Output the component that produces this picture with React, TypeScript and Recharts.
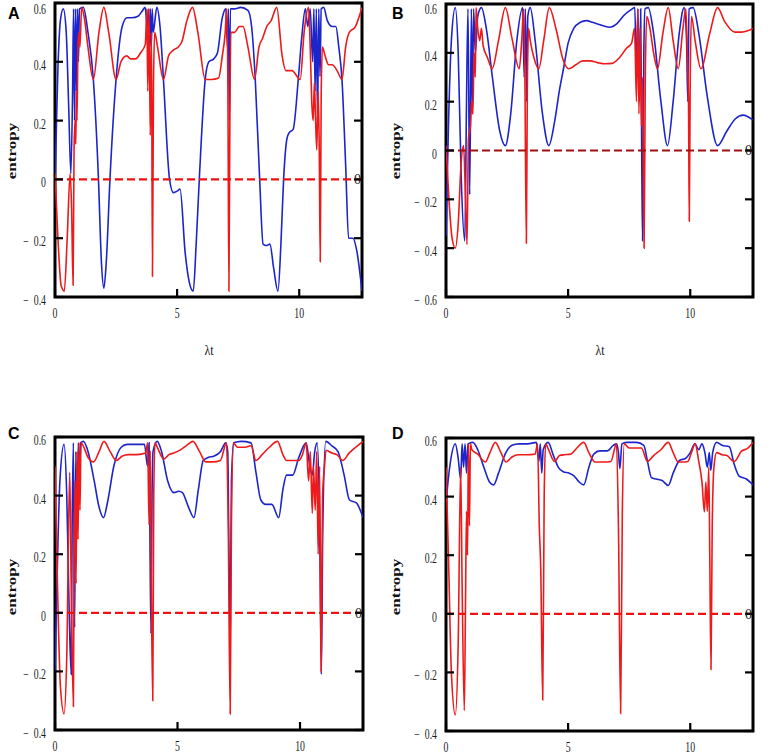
import { Line, LineChart, ReferenceArea, ReferenceLine, XAxis, YAxis } from 'recharts';

type Pt = [number, number];

const T_MAX = 12.57;
const xTicks = [0, 5, 10];
const yTicks = [-0.4, -0.2, 0, 0.2, 0.4, 0.6];
const yTicksB = [-0.6, -0.4, -0.2, 0, 0.2, 0.4, 0.6];

// panel A
const blueA: Pt[] = [
  [0, 0.0], [0.12, 0.38], [0.22, 0.54], [0.34, 0.58], [0.46, 0.5], [0.56, 0.25], [0.65, 0.02],
  [0.72, 0.3], [0.76, 0.58], [0.8, 0.2], [0.84, 0.58], [0.88, 0.3], [0.92, 0.58], [0.96, 0.4],
  [1.0, 0.58], [1.16, 0.585], [1.35, 0.5], [1.57, 0.34], [1.78, 0.0], [1.9, -0.28], [2.0, -0.37],
  [2.1, -0.28], [2.25, 0.0], [2.5, 0.34], [2.75, 0.52], [2.95, 0.55], [3.15, 0.55], [3.4, 0.555],
  [3.55, 0.57], [3.69, 0.585], [3.78, 0.52], [3.82, 0.58], [3.86, 0.42], [3.9, 0.58], [3.94, 0.45],
  [3.98, 0.58], [4.02, 0.5], [4.17, 0.585], [4.3, 0.52], [4.44, 0.34], [4.69, 0.0], [4.85, -0.045],
  [5.0, -0.04], [5.12, -0.033], [5.33, -0.25], [5.5, -0.35], [5.66, -0.38], [5.78, -0.22],
  [5.92, 0.02], [6.15, 0.34], [6.3, 0.4], [6.5, 0.41], [6.65, 0.43], [6.85, 0.55], [7.0, 0.58],
  [7.06, 0.45], [7.1, 0.58], [7.14, 0.2], [7.18, 0.58], [7.35, 0.58], [7.6, 0.585], [7.9, 0.575],
  [8.05, 0.52], [8.2, 0.34], [8.38, 0.0], [8.52, -0.22], [8.65, -0.225], [8.8, -0.22],
  [8.95, -0.3], [9.13, -0.38], [9.25, -0.22], [9.36, 0.0], [9.5, 0.14], [9.6, 0.16], [9.75, 0.17],
  [9.97, 0.35], [10.1, 0.48], [10.25, 0.58], [10.35, 0.52], [10.45, 0.58], [10.55, 0.4],
  [10.6, 0.58], [10.65, 0.3], [10.7, 0.58], [10.75, 0.2], [10.8, 0.58], [10.85, 0.35], [10.9, 0.58],
  [11.0, 0.585], [11.15, 0.54], [11.35, 0.52], [11.5, 0.52], [11.62, 0.45], [11.75, 0.34],
  [11.9, 0.05], [12.02, -0.2], [12.2, -0.2], [12.35, -0.24], [12.57, -0.38],
];
const redA: Pt[] = [
  [0, 0.02], [0.12, -0.2], [0.25, -0.36], [0.38, -0.38], [0.5, -0.2], [0.62, 0.02], [0.68, -0.1],
  [0.74, -0.36], [0.78, 0.1], [0.82, 0.2], [0.85, 0.12], [0.88, 0.3], [0.9, 0.2], [0.94, 0.45],
  [0.98, 0.5], [1.02, 0.45], [1.09, 0.585], [1.2, 0.55], [1.35, 0.45], [1.57, 0.34], [1.8, 0.5],
  [2.0, 0.585], [2.2, 0.5], [2.5, 0.34], [2.7, 0.4], [2.94, 0.42], [3.1, 0.41], [3.3, 0.41],
  [3.5, 0.43], [3.7, 0.46], [3.76, 0.58], [3.8, 0.3], [3.85, 0.58], [3.9, 0.15], [3.95, 0.5],
  [3.99, -0.33], [4.03, 0.3], [4.08, 0.5], [4.2, 0.45], [4.44, 0.34], [4.65, 0.42], [4.85, 0.44],
  [5.05, 0.45], [5.2, 0.47], [5.4, 0.54], [5.63, 0.585], [5.85, 0.5], [6.15, 0.34], [6.4, 0.34],
  [6.7, 0.345], [6.85, 0.42], [6.97, 0.5], [7.03, 0.58], [7.08, 0.3], [7.12, -0.38], [7.16, 0.2],
  [7.2, 0.5], [7.35, 0.5], [7.55, 0.52], [7.7, 0.52], [7.9, 0.45], [8.17, 0.34], [8.35, 0.45],
  [8.5, 0.48], [8.67, 0.52], [8.85, 0.54], [9.08, 0.585], [9.3, 0.42], [9.45, 0.37], [9.7, 0.37],
  [10.04, 0.34], [10.2, 0.5], [10.38, 0.585], [10.45, 0.45], [10.52, 0.25], [10.57, 0.2],
  [10.62, 0.33], [10.67, 0.2], [10.72, 0.1], [10.77, 0.3], [10.82, 0.1], [10.86, -0.28],
  [10.9, 0.3], [10.95, 0.45], [11.06, 0.42], [11.2, 0.39], [11.35, 0.39], [11.55, 0.37],
  [11.75, 0.34], [11.9, 0.45], [12.05, 0.5], [12.3, 0.52], [12.57, 0.585],
];

// panel B
const blueB: Pt[] = [
  [0, -0.35], [0.1, 0.1], [0.22, 0.45], [0.38, 0.585], [0.5, 0.4], [0.62, -0.1], [0.77, -0.37],
  [0.84, 0.2], [0.9, 0.58], [0.97, -0.18], [1.04, 0.58], [1.08, 0.15], [1.13, 0.58], [1.2, 0.4],
  [1.3, 0.55], [1.45, 0.585], [1.65, 0.5], [1.9, 0.3], [2.2, 0.08], [2.43, 0.02], [2.65, 0.15],
  [2.9, 0.45], [3.14, 0.585], [3.2, 0.3], [3.25, 0.58], [3.3, 0.2], [3.35, 0.55], [3.45, 0.585],
  [3.65, 0.45], [3.95, 0.15], [4.21, 0.02], [4.45, 0.12], [4.65, 0.25], [4.82, 0.34], [5.0, 0.44],
  [5.23, 0.5], [5.5, 0.525], [5.75, 0.532], [6.0, 0.525], [6.3, 0.515], [6.7, 0.505], [7.0, 0.52],
  [7.3, 0.555], [7.55, 0.575], [7.73, 0.585], [7.8, 0.3], [7.86, 0.58], [7.92, 0.2], [7.97, 0.58],
  [8.02, -0.1], [8.05, -0.37], [8.1, 0.4], [8.15, 0.58], [8.28, 0.585], [8.5, 0.48], [8.8, 0.2],
  [9.07, 0.02], [9.3, 0.2], [9.55, 0.48], [9.75, 0.585], [9.85, 0.45], [9.9, 0.2], [9.95, 0.58],
  [10.12, 0.585], [10.35, 0.48], [10.7, 0.22], [11.12, 0.02], [11.5, 0.08], [11.85, 0.13],
  [12.17, 0.145], [12.57, 0.125],
];
const redB: Pt[] = [
  [0, 0.02], [0.12, -0.2], [0.25, -0.36], [0.38, -0.4], [0.5, -0.3], [0.62, -0.05], [0.72, 0.02],
  [0.8, -0.2], [0.86, -0.385], [0.92, 0.05], [1.0, 0.1], [1.05, 0.2], [1.1, 0.15], [1.15, 0.4],
  [1.2, 0.3], [1.23, 0.585], [1.3, 0.5], [1.38, 0.45], [1.45, 0.5], [1.52, 0.43], [1.7, 0.38],
  [1.89, 0.335], [2.15, 0.45], [2.43, 0.585], [2.7, 0.46], [3.0, 0.335], [3.1, 0.45], [3.18, 0.58],
  [3.23, 0.3], [3.29, -0.38], [3.33, 0.25], [3.38, 0.5], [3.45, 0.45], [3.6, 0.38], [3.8, 0.335],
  [4.0, 0.45], [4.23, 0.585], [4.5, 0.5], [4.8, 0.37], [5.03, 0.335], [5.3, 0.35], [5.6, 0.367],
  [5.9, 0.367], [6.2, 0.36], [6.5, 0.355], [6.8, 0.357], [7.1, 0.38], [7.4, 0.42], [7.6, 0.44],
  [7.72, 0.5], [7.8, 0.2], [7.85, 0.58], [7.9, 0.15], [7.95, 0.5], [8.0, 0.1], [8.05, 0.3],
  [8.11, -0.4], [8.16, 0.3], [8.22, 0.55], [8.35, 0.5], [8.5, 0.4], [8.66, 0.335], [8.88, 0.48],
  [9.1, 0.585], [9.3, 0.45], [9.51, 0.335], [9.7, 0.5], [9.82, 0.58], [9.88, 0.4], [9.93, 0.2],
  [9.96, -0.29], [10.0, 0.3], [10.05, 0.55], [10.2, 0.45], [10.44, 0.335], [10.8, 0.48],
  [11.12, 0.585], [11.4, 0.53], [11.83, 0.485], [12.1, 0.485], [12.35, 0.49], [12.57, 0.5],
];

// panel C
const blueC: Pt[] = [
  [0, -0.2], [0.08, 0.1], [0.2, 0.45], [0.37, 0.575], [0.48, 0.4], [0.58, 0.0], [0.66, -0.21],
  [0.7, 0.3], [0.75, 0.58], [0.8, -0.05], [0.85, 0.55], [0.9, 0.3], [0.95, 0.58], [1.0, 0.45],
  [1.05, 0.58], [1.16, 0.585], [1.35, 0.55], [1.6, 0.45], [1.8, 0.36], [1.98, 0.325], [2.15, 0.38],
  [2.4, 0.5], [2.7, 0.565], [2.95, 0.575], [3.3, 0.575], [3.65, 0.575], [3.78, 0.5], [3.84, 0.58],
  [3.88, 0.2], [3.92, -0.07], [3.96, 0.4], [4.0, 0.55], [4.17, 0.585], [4.35, 0.55], [4.6, 0.45],
  [4.85, 0.41], [5.05, 0.415], [5.2, 0.41], [5.45, 0.36], [5.67, 0.325], [5.85, 0.42],
  [6.05, 0.52], [6.25, 0.53], [6.5, 0.535], [6.75, 0.55], [6.97, 0.58], [7.05, 0.55], [7.1, 0.2],
  [7.15, -0.08], [7.2, 0.45], [7.3, 0.58], [7.6, 0.585], [8.0, 0.58], [8.2, 0.48], [8.4, 0.385],
  [8.6, 0.37], [8.85, 0.37], [9.13, 0.325], [9.3, 0.42], [9.45, 0.47], [9.7, 0.47], [9.95, 0.53],
  [10.25, 0.58], [10.4, 0.5], [10.5, 0.47], [10.6, 0.55], [10.7, 0.58], [10.8, 0.3], [10.87, -0.21],
  [10.93, 0.3], [11.05, 0.585], [11.3, 0.57], [11.55, 0.55], [11.8, 0.47], [12.02, 0.385],
  [12.3, 0.375], [12.57, 0.325],
];
const redC: Pt[] = [
  [0, 0.5], [0.1, 0.1], [0.22, -0.25], [0.37, -0.345], [0.48, -0.15], [0.6, 0.48], [0.66, 0.1],
  [0.75, -0.32], [0.78, 0.2], [0.82, 0.45], [0.86, 0.1], [0.9, 0.55], [0.94, 0.25], [0.98, 0.58],
  [1.02, 0.35], [1.06, 0.58], [1.15, 0.57], [1.35, 0.53], [1.57, 0.515], [1.8, 0.55], [2.0, 0.585],
  [2.25, 0.55], [2.5, 0.52], [2.75, 0.535], [3.0, 0.54], [3.35, 0.54], [3.7, 0.545], [3.78, 0.58],
  [3.84, 0.3], [3.88, 0.55], [3.93, 0.1], [3.99, -0.3], [4.03, 0.4], [4.08, 0.58], [4.2, 0.56],
  [4.44, 0.525], [4.65, 0.54], [4.85, 0.545], [5.1, 0.555], [5.35, 0.57], [5.63, 0.585],
  [5.9, 0.55], [6.15, 0.515], [6.45, 0.515], [6.75, 0.52], [7.0, 0.58], [7.07, 0.3],
  [7.15, -0.345], [7.2, 0.3], [7.28, 0.58], [7.45, 0.565], [7.75, 0.565], [8.0, 0.57], [8.2, 0.52],
  [8.45, 0.54], [8.75, 0.565], [9.08, 0.585], [9.3, 0.54], [9.45, 0.52], [9.75, 0.52],
  [9.95, 0.52], [10.1, 0.54], [10.25, 0.58], [10.35, 0.45], [10.42, 0.55], [10.5, 0.34],
  [10.55, 0.5], [10.62, 0.35], [10.68, 0.55], [10.74, 0.2], [10.8, 0.5], [10.86, -0.2],
  [10.92, 0.4], [11.0, 0.5], [11.06, 0.555], [11.3, 0.545], [11.5, 0.54], [11.75, 0.52],
  [12.0, 0.545], [12.2, 0.56], [12.57, 0.585],
];

// panel D
const blueD: Pt[] = [
  [0, 0.38], [0.15, 0.5], [0.38, 0.58], [0.5, 0.53], [0.6, 0.46], [0.66, 0.58], [0.72, 0.5],
  [0.78, 0.58], [0.84, 0.48], [0.9, 0.58], [1.1, 0.585], [1.3, 0.56], [1.55, 0.5], [1.78, 0.45],
  [1.95, 0.44], [2.15, 0.48], [2.45, 0.55], [2.7, 0.575], [3.0, 0.58], [3.35, 0.58], [3.7, 0.585],
  [3.8, 0.52], [3.86, 0.58], [3.92, 0.48], [3.98, 0.56], [4.18, 0.585], [4.4, 0.54], [4.6, 0.5],
  [4.8, 0.485], [5.05, 0.48], [5.25, 0.47], [5.45, 0.45], [5.64, 0.44], [5.85, 0.5], [6.05, 0.545],
  [6.3, 0.556], [6.6, 0.556], [6.85, 0.575], [6.98, 0.58], [7.06, 0.55], [7.12, 0.495], [7.2, 0.58],
  [7.4, 0.585], [7.8, 0.585], [8.1, 0.575], [8.25, 0.52], [8.41, 0.465], [8.6, 0.46], [8.85, 0.455],
  [9.1, 0.438], [9.3, 0.48], [9.57, 0.524], [9.8, 0.53], [10.0, 0.55], [10.19, 0.58], [10.35, 0.56],
  [10.48, 0.58], [10.6, 0.55], [10.7, 0.5], [10.78, 0.55], [10.84, 0.49], [10.92, 0.55],
  [11.08, 0.585], [11.3, 0.575], [11.6, 0.57], [11.8, 0.51], [12.0, 0.47], [12.3, 0.46],
  [12.57, 0.44],
];
const redD: Pt[] = [
  [0, 0.5], [0.1, 0.2], [0.22, -0.2], [0.38, -0.345], [0.5, -0.1], [0.6, 0.5], [0.66, 0.1],
  [0.75, -0.33], [0.8, 0.05], [0.84, 0.35], [0.88, 0.2], [0.92, 0.58], [0.96, 0.3], [1.0, 0.58],
  [1.06, 0.56], [1.3, 0.545], [1.61, 0.518], [1.8, 0.55], [2.02, 0.585], [2.25, 0.55], [2.46, 0.518],
  [2.7, 0.535], [2.95, 0.543], [3.3, 0.543], [3.65, 0.545], [3.75, 0.58], [3.82, 0.3], [3.88, 0.15],
  [3.96, -0.294], [4.02, 0.4], [4.08, 0.58], [4.2, 0.56], [4.44, 0.52], [4.65, 0.54], [4.85, 0.543],
  [5.1, 0.545], [5.35, 0.565], [5.64, 0.585], [5.85, 0.55], [6.1, 0.518], [6.45, 0.518],
  [6.75, 0.52], [6.98, 0.58], [7.06, 0.3], [7.15, -0.34], [7.22, 0.35], [7.3, 0.58], [7.5, 0.566],
  [7.8, 0.566], [8.0, 0.566], [8.25, 0.52], [8.5, 0.54], [8.8, 0.56], [9.1, 0.585], [9.3, 0.55],
  [9.51, 0.518], [9.7, 0.518], [9.9, 0.52], [10.05, 0.55], [10.2, 0.58], [10.35, 0.52],
  [10.48, 0.45], [10.58, 0.348], [10.64, 0.45], [10.7, 0.35], [10.76, 0.5], [10.8, 0.2],
  [10.85, -0.19], [10.9, 0.3], [10.97, 0.5], [11.08, 0.55], [11.3, 0.543], [11.5, 0.54],
  [11.8, 0.52], [12.1, 0.555], [12.35, 0.565], [12.57, 0.585],
];

const BLUE = '#1c24cc';
const RED = '#ee1a1a';
const SERIF = '"Liberation Serif", "Times New Roman", serif';
const TICK_LEN = 8;

const rows = (pts: Pt[]) => pts.map(([t, v]) => ({ t, v }));

const fmtY = (v: number) =>
  v === 0 ? '0' : v < 0 ? `\u2212\u2002${Math.abs(v).toFixed(1)}` : v.toFixed(1);

// left axis: inward tick mark plus a squeezed serif label
function LeftTick(props: any) {
  const { x, y, payload, edge } = props;
  const ty = Math.max(y + 3, 9);
  return (
    <g>
      <line x1={edge} x2={edge + TICK_LEN} y1={y} y2={y} stroke="#000" strokeWidth={2.2} />
      <g transform={`translate(${x},${ty})`}>
        <text transform="scale(0.7,1)" textAnchor="end" dy="0.36em" fontFamily={SERIF} fontSize={14} fill="#1a1a1a">
          {fmtY(payload.value)}
        </text>
      </g>
    </g>
  );
}

function BottomTick(props: any) {
  const { x, payload, edge } = props;
  return (
    <g>
      <line x1={x} x2={x} y1={edge} y2={edge - TICK_LEN} stroke="#000" strokeWidth={2.2} />
      <g transform={`translate(${x},${edge + 11})`}>
        <text transform="scale(0.7,1)" textAnchor="middle" dy="0.71em" fontFamily={SERIF} fontSize={14} fill="#1a1a1a">
          {payload.value}
        </text>
      </g>
    </g>
  );
}

function TopTick(props: any) {
  const { x, edge } = props;
  return <line x1={x} x2={x} y1={edge} y2={edge + TICK_LEN} stroke="#000" strokeWidth={2.2} />;
}

function RightTick(props: any) {
  const { y, edge } = props;
  return <line x1={edge} x2={edge - TICK_LEN} y1={y} y2={y} stroke="#000" strokeWidth={2.2} />;
}

type PanelProps = {
  letter: string;
  left: number;
  top: number;
  width: number;
  height: number;
  plot: { l: number; t: number; r: number; b: number };
  yDomain: [number, number];
  ticks: number[];
  blue: Pt[];
  red: Pt[];
  zeroColor: string;
  labelY: number;
  xLabel: boolean;
};

function Panel(p: PanelProps) {
  const yAxisW = p.plot.l - p.left;
  const inner = {
    l: p.plot.l - p.left,
    r: p.plot.r - p.left,
    t: p.plot.t - p.top,
    b: p.plot.b - p.top,
  };
  const margin = {
    top: inner.t - 1,
    left: 0,
    right: p.width - inner.r - 1,
    bottom: p.height - inner.b - 20,
  };
  return (
    <>
      <div style={{ position: 'absolute', left: p.left, top: p.top }}>
        <LineChart width={p.width} height={p.height} margin={margin}>
          <XAxis
            dataKey="t"
            type="number"
            domain={[0, T_MAX]}
            ticks={xTicks}
            allowDataOverflow
            height={20}
            axisLine={false}
            tickLine={false}
            tick={<BottomTick edge={inner.b} />}
            interval={0}
          />
          <XAxis
            xAxisId="top"
            orientation="top"
            type="number"
            domain={[0, T_MAX]}
            ticks={xTicks}
            allowDataOverflow
            height={1}
            axisLine={false}
            tickLine={false}
            tick={<TopTick edge={inner.t} />}
            interval={0}
          />
          <YAxis
            type="number"
            domain={p.yDomain}
            ticks={p.ticks}
            allowDataOverflow
            width={yAxisW}
            axisLine={false}
            tickLine={false}
            tickMargin={3}
            tick={<LeftTick edge={inner.l} />}
            interval={0}
          />
          <YAxis
            yAxisId="right"
            orientation="right"
            type="number"
            domain={p.yDomain}
            ticks={p.ticks}
            allowDataOverflow
            width={1}
            axisLine={false}
            tickLine={false}
            tick={<RightTick edge={inner.r} />}
            interval={0}
          />
          <Line
            data={rows(p.blue)}
            dataKey="v"
            type="monotone"
            stroke={BLUE}
            strokeWidth={1.6}
            dot={false}
            isAnimationActive={false}
          />
          <Line
            data={rows(p.red)}
            dataKey="v"
            type="monotone"
            stroke={RED}
            strokeWidth={1.6}
            dot={false}
            isAnimationActive={false}
          />
          <ReferenceLine
            y={0}
            stroke={p.zeroColor}
            strokeWidth={2.2}
            strokeDasharray="8 4"
            label={{ value: '0', position: 'insideRight', offset: 1, fontFamily: SERIF, fontSize: 14, fill: '#1a1a1a' }}
          />
          <ReferenceArea
            x1={0}
            x2={T_MAX}
            y1={p.yDomain[0]}
            y2={p.yDomain[1]}
            fill="none"
            fillOpacity={0}
            stroke="#000"
            strokeWidth={3}
            ifOverflow="visible"
          />
        </LineChart>
      </div>
      <div
        style={{
          position: 'absolute',
          left: p.left + 8,
          top: p.top + 5,
          font: 'bold 16px "Liberation Sans", Arial, sans-serif',
          color: '#000',
        }}
      >
        {p.letter}
      </div>
      <div
        style={{
          position: 'absolute',
          left: p.left + 12,
          top: p.labelY,
          transform: 'translate(-50%, -50%) rotate(-90deg) scaleY(0.75)',
          font: `bold 17px ${SERIF}`,
          color: '#111',
          whiteSpace: 'nowrap',
        }}
      >
        entropy
      </div>
      {p.xLabel && (
        <div
          style={{
            position: 'absolute',
            left: (p.plot.l + p.plot.r) / 2,
            top: 350,
            transform: 'translate(-50%, -50%) scaleX(0.8)',
            font: `15px ${SERIF}`,
            color: '#111',
          }}
        >
          λt
        </div>
      )}
    </>
  );
}

export default function App() {
  return (
    <div
      style={{
        position: 'absolute',
        left: 0,
        top: 0,
        width: 768,
        height: 756,
        background: '#fff',
        overflow: 'hidden',
      }}
    >
      <Panel
        letter="A"
        left={0}
        top={0}
        width={384}
        height={330}
        plot={{ l: 55, t: 3, r: 362, b: 297 }}
        yDomain={[-0.4, 0.6]}
        ticks={yTicks}
        blue={blueA}
        red={redA}
        zeroColor="#ee1111"
        labelY={151}
        xLabel
      />
      <Panel
        letter="B"
        left={384}
        top={0}
        width={384}
        height={330}
        plot={{ l: 446, t: 4, r: 753, b: 297 }}
        yDomain={[-0.6, 0.6]}
        ticks={yTicksB}
        blue={blueB}
        red={redB}
        zeroColor="#a01010"
        labelY={151}
        xLabel
      />
      <Panel
        letter="C"
        left={0}
        top={420}
        width={384}
        height={336}
        plot={{ l: 55, t: 437, r: 363, b: 730 }}
        yDomain={[-0.4, 0.6]}
        ticks={yTicks}
        blue={blueC}
        red={redC}
        zeroColor="#ee1111"
        labelY={587}
        xLabel={false}
      />
      <Panel
        letter="D"
        left={384}
        top={420}
        width={384}
        height={336}
        plot={{ l: 446, t: 438, r: 753, b: 731 }}
        yDomain={[-0.4, 0.6]}
        ticks={yTicks}
        blue={blueD}
        red={redD}
        zeroColor="#ee1111"
        labelY={587}
        xLabel={false}
      />
    </div>
  );
}
